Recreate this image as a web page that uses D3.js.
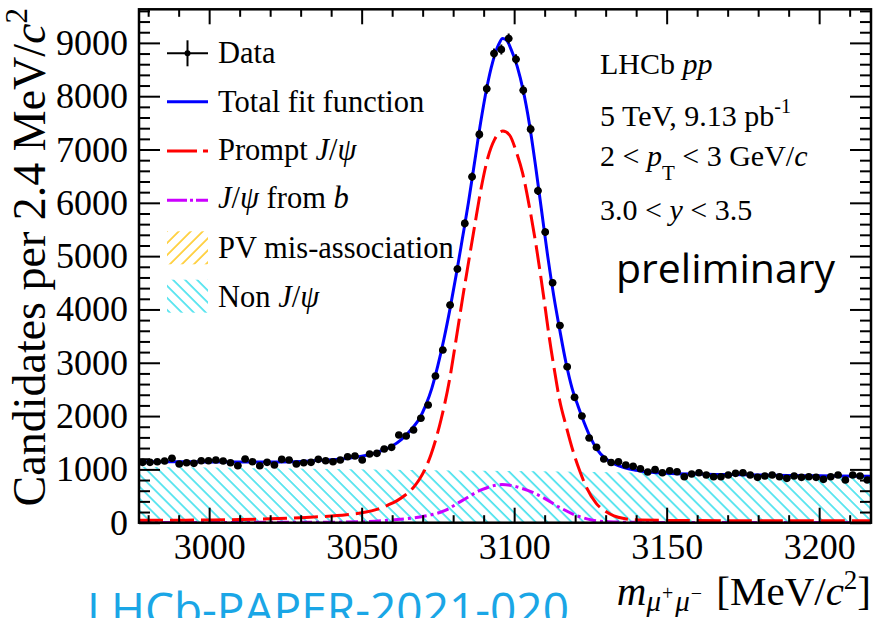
<!DOCTYPE html>
<html>
<head>
<meta charset="utf-8">
<script src="https://cdn.jsdelivr.net/npm/d3@7"></script>
<style>
  html, body { margin: 0; padding: 0; background: #fff; }
  svg { display: block; }
  text { font-family: "Liberation Serif", "Times New Roman", serif; fill: #000; }
</style>
</head>
<body>
<svg id="chart" width="876" height="618"></svg>
<script>
// Histogram: 100 bins of 2.4 MeV starting at 2977 MeV
const binLow = 2977;
const binWidth = 2.4;
const dataCounts = [
  1132, 1132, 1144, 1157, 1207, 1101, 1125, 1113, 1163, 1163,
  1176, 1157, 1125, 1069, 1194, 1144, 1069, 1132, 1082, 1188,
  1176, 1101, 1125, 1132, 1188, 1163, 1144, 1176, 1238, 1251,
  1176, 1288, 1301, 1382, 1413, 1644, 1626, 1738, 1958, 2207,
  2751, 3238, 4082, 4760, 5614, 6488, 7283, 8138, 8801, 8876,
  9083, 8694, 8113, 7382, 6225, 5451, 4501, 3700, 2925, 2351,
  2001, 1588, 1413, 1194, 1130, 1141, 1082, 1060, 1013, 951,
  995, 938, 975, 957, 863, 913, 938, 894, 863, 863,
  894, 926, 938, 894, 851, 876, 894, 863, 832, 876,
  851, 863, 851, 813, 863, 894, 801, 894, 876, 801
];

// Fit curves (mass in MeV, value in candidates)
const totalMass = [2977, 2990, 3000, 3010, 3020, 3030, 3035, 3040, 3045, 3050, 3054, 3057, 3060, 3063, 3065, 3067, 3069, 3071, 3073, 3075, 3077, 3079, 3081, 3083, 3085, 3087, 3089, 3091, 3093, 3095, 3096.2, 3097.5, 3099, 3101, 3103, 3105, 3107, 3109, 3111, 3113, 3115, 3117, 3119, 3121, 3123, 3125, 3127, 3130, 3133, 3136, 3140, 3145, 3150, 3160, 3170, 3180, 3190, 3200, 3217];
const totalFit  = [1145, 1142, 1140, 1138, 1140, 1150, 1165, 1180, 1205, 1245, 1300, 1360, 1440, 1560, 1670, 1800, 1960, 2200, 2520, 2950, 3450, 4020, 4650, 5320, 6000, 6750, 7500, 8150, 8650, 8980, 9082, 9050, 8880, 8560, 8100, 7480, 6700, 5850, 5000, 4250, 3600, 3000, 2520, 2180, 1870, 1600, 1390, 1200, 1100, 1035, 985, 945, 928, 912, 903, 895, 887, 880, 872];

const promptMass = [2977, 2997, 3010, 3020, 3030, 3037, 3045, 3051, 3055, 3058.6, 3061.5, 3064.1, 3067.4, 3069, 3070.6, 3072.8, 3074.5, 3076.1, 3078.8, 3081, 3083.2, 3084.8, 3087, 3089.2, 3091.4, 3093.6, 3096.3, 3098.5, 3100.7, 3102.8, 3105, 3107.2, 3108.9, 3110.3, 3111.5, 3113.2, 3114.9, 3117.1, 3119.2, 3121.4, 3123.6, 3126.9, 3130.2, 3135.6, 3141, 3160, 3217];
const promptFit  = [45, 50, 58, 72, 95, 115, 150, 195, 250, 330, 410, 510, 690, 820, 980, 1290, 1600, 1950, 2676, 3450, 4250, 4800, 5551, 6280, 6850, 7190, 7345, 7270, 6957, 6551, 5926, 5200, 4550, 3980, 3480, 2863, 2301, 1800, 1363, 988, 676, 363, 206, 82, 51, 40, 35];

const fromBMass = [2977, 3040, 3051, 3060, 3069.6, 3077.2, 3082.8, 3089.4, 3096, 3102.5, 3109, 3114.5, 3120, 3125.4, 3130.9, 3140, 3217];
const fromBFit  = [4, 10, 19, 51, 113, 225, 410, 620, 715, 645, 488, 300, 144, 51, 19, 6, 2];

const nonJpsiMass = [2977, 3000, 3040, 3080, 3120, 3160, 3217];
const nonJpsiFit  = [1050, 1035, 1005, 980, 955, 925, 885];

const xMajorTicks = [3000, 3050, 3100, 3150, 3200];
const yMajorTicks = [0, 1000, 2000, 3000, 4000, 5000, 6000, 7000, 8000, 9000];

const svg = d3.select("#chart");
const plotLeft = 139, plotRight = 871, plotTop = 9.3, plotBottom = 522.7;

const x = d3.scaleLinear().domain([2977, 3217]).range([plotLeft, plotRight]);
const y = d3.scaleLinear().domain([0, 9630]).range([plotBottom, plotTop]);

const xMinorTicks = d3.range(2980, 3217, 10).filter(v => v % 50 !== 0);
const yMinorTicks = d3.range(200, 9630, 200).filter(v => v % 1000 !== 0);

// hatch patterns
const defs = svg.append("defs");
function hatch(id, color, angle) {
  const p = defs.append("pattern")
    .attr("id", id)
    .attr("patternUnits", "userSpaceOnUse")
    .attr("width", 8.5).attr("height", 8.5)
    .attr("patternTransform", `rotate(${angle})`);
  p.append("line")
    .attr("x1", 1).attr("y1", 0).attr("x2", 1).attr("y2", 8.5)
    .attr("stroke", color).attr("stroke-width", 1.4);
}
hatch("hatchCyan", "#22dcea", -45);
hatch("hatchOrange", "#ffc000", 45);

defs.append("clipPath").attr("id", "plotClip")
  .append("rect")
  .attr("x", plotLeft).attr("y", plotTop)
  .attr("width", plotRight - plotLeft).attr("height", plotBottom - plotTop);

const plot = svg.append("g").attr("clip-path", "url(#plotClip)");

// Non J/psi background (hatched)
const bkgPoints = nonJpsiMass.map((m, i) => [m, nonJpsiFit[i]]);
plot.append("path")
  .datum(bkgPoints)
  .attr("fill", "url(#hatchCyan)")
  .attr("d", d3.area()
    .x(d => x(d[0]))
    .y0(y(0))
    .y1(d => y(d[1]))
    .curve(d3.curveMonotoneX));

function curvePath(mass, vals, color, dash, width) {
  plot.append("path")
    .datum(mass.map((m, i) => [m, vals[i]]))
    .attr("fill", "none")
    .attr("stroke", color)
    .attr("stroke-width", width)
    .attr("stroke-dasharray", dash)
    .attr("d", d3.line()
      .x(d => x(d[0]))
      .y(d => y(d[1]))
      .curve(d3.curveMonotoneX));
}
curvePath(fromBMass, fromBFit, "#cc00ff", "12,4,3,4", 3);
curvePath(promptMass, promptFit, "#ff0000", "24,7", 3);
curvePath(totalMass, totalFit, "#0000ff", null, 3);

// Data points with error bars
const points = dataCounts.map((n, i) => ({ m: binLow + binWidth * (i + 0.5), n: n }));
const pts = plot.append("g");
pts.selectAll("line.ex").data(points).enter().append("line")
  .attr("x1", d => x(d.m - binWidth / 2)).attr("x2", d => x(d.m + binWidth / 2))
  .attr("y1", d => y(d.n)).attr("y2", d => y(d.n))
  .attr("stroke", "#000").attr("stroke-width", 2);
pts.selectAll("line.ey").data(points).enter().append("line")
  .attr("x1", d => x(d.m)).attr("x2", d => x(d.m))
  .attr("y1", d => y(d.n - Math.sqrt(d.n))).attr("y2", d => y(d.n + Math.sqrt(d.n)))
  .attr("stroke", "#000").attr("stroke-width", 2);
pts.selectAll("circle").data(points).enter().append("circle")
  .attr("cx", d => x(d.m)).attr("cy", d => y(d.n)).attr("r", 3.8)
  .attr("fill", "#000");

// Axes with inward ticks (ROOT style)
function addAxis(axis, transform, labelSize) {
  const g = svg.append("g").attr("transform", transform).call(axis);
  g.select(".domain").remove();
  g.attr("font-family", null).attr("font-size", null);
  g.selectAll(".tick line").attr("stroke", "#000").attr("stroke-width", 2);
  g.selectAll(".tick text").style("font-size", labelSize + "px").attr("fill", "#000");
  return g;
}
addAxis(d3.axisLeft(y).tickValues(yMajorTicks).tickSize(-21).tickPadding(11).tickFormat(d3.format("d")), `translate(${plotLeft},0)`, 36);
addAxis(d3.axisLeft(y).tickValues(yMinorTicks).tickSize(-11).tickFormat(""), `translate(${plotLeft},0)`, 0);
addAxis(d3.axisRight(y).tickValues(yMajorTicks).tickSize(-21).tickFormat(""), `translate(${plotRight},0)`, 0);
addAxis(d3.axisRight(y).tickValues(yMinorTicks).tickSize(-11).tickFormat(""), `translate(${plotRight},0)`, 0);
addAxis(d3.axisBottom(x).tickValues(xMajorTicks).tickSize(-15).tickPadding(11).tickFormat(d3.format("d")), `translate(0,${plotBottom})`, 36);
addAxis(d3.axisBottom(x).tickValues(xMinorTicks).tickSize(-7.5).tickFormat(""), `translate(0,${plotBottom})`, 0);
addAxis(d3.axisTop(x).tickValues(xMajorTicks).tickSize(-15).tickFormat(""), `translate(0,${plotTop})`, 0);
addAxis(d3.axisTop(x).tickValues(xMinorTicks).tickSize(-7.5).tickFormat(""), `translate(0,${plotTop})`, 0);

svg.append("rect")
  .attr("x", plotLeft).attr("y", plotTop)
  .attr("width", plotRight - plotLeft).attr("height", plotBottom - plotTop)
  .attr("fill", "none").attr("stroke", "#000").attr("stroke-width", 2.5);

// rich text helper: parts = [{t, i (italic), dy, dx, s (size)}]
function richText(parent, px, py, size, parts, anchor) {
  const t = parent.append("text")
    .attr("x", px).attr("y", py)
    .style("font-size", size + "px")
    .attr("text-anchor", anchor || "start");
  parts.forEach(p => {
    const ts = t.append("tspan").text(p.t);
    if (p.i) ts.style("font-style", "italic");
    if (p.dy) ts.attr("dy", p.dy);
    if (p.dx) ts.attr("dx", p.dx);
    if (p.s) ts.style("font-size", p.s + "px");
  });
  return t;
}

// axis titles
richText(svg.append("g").attr("transform", "translate(45,8) rotate(-90)"), 0, 0, 46, [
  { t: "Candidates per 2.4 MeV/" }, { t: "c", i: true }, { t: "2", dy: -18, s: 31 }
], "end");

richText(svg, 871, 604.5, 41, [
  { t: "m", i: true },
  { t: "μ", i: true, dy: 6.5, s: 29 }, { t: "+", dy: -11, dx: 1, s: 20 },
  { t: "μ", i: true, dy: 11, dx: 2, s: 29 }, { t: "−", dy: -11, dx: 1, s: 20 },
  { t: " [MeV/", dy: 4.5, dx: 4 }, { t: "c", i: true }, { t: "2", dy: -16, s: 27 }, { t: "]", dy: 16 }
], "end");

// legend
const legendLabels = [
  [{ t: "Data" }],
  [{ t: "Total fit function" }],
  [{ t: "Prompt " }, { t: "J", i: true }, { t: "/" }, { t: "ψ", i: true }],
  [{ t: "J", i: true }, { t: "/" }, { t: "ψ", i: true }, { t: " from " }, { t: "b", i: true }],
  [{ t: "PV mis-association" }],
  [{ t: "Non " }, { t: "J", i: true }, { t: "/" }, { t: "ψ", i: true }]
];
const legendBase = [63.3, 111.7, 160, 208.3, 258.3, 306.7];
const legend = svg.append("g");
legendLabels.forEach((parts, i) => richText(legend, 218, legendBase[i], 30.5, parts));

const lx0 = 167, lx1 = 208;
legend.append("line").attr("x1", lx0).attr("x2", lx1).attr("y1", legendBase[0] - 10).attr("y2", legendBase[0] - 10)
  .attr("stroke", "#000").attr("stroke-width", 2);
legend.append("line").attr("x1", (lx0 + lx1) / 2).attr("x2", (lx0 + lx1) / 2).attr("y1", legendBase[0] - 23).attr("y2", legendBase[0] + 3)
  .attr("stroke", "#000").attr("stroke-width", 2);
legend.append("circle").attr("cx", (lx0 + lx1) / 2).attr("cy", legendBase[0] - 10).attr("r", 3).attr("fill", "#000");
legend.append("line").attr("x1", lx0).attr("x2", lx1).attr("y1", legendBase[1] - 10).attr("y2", legendBase[1] - 10)
  .attr("stroke", "#0000ff").attr("stroke-width", 3);
legend.append("line").attr("x1", lx0).attr("x2", lx1).attr("y1", legendBase[2] - 9).attr("y2", legendBase[2] - 9)
  .attr("stroke", "#ff0000").attr("stroke-width", 3).attr("stroke-dasharray", "30,6");
legend.append("line").attr("x1", lx0).attr("x2", lx1).attr("y1", legendBase[3] - 8).attr("y2", legendBase[3] - 8)
  .attr("stroke", "#cc00ff").attr("stroke-width", 3).attr("stroke-dasharray", "20,3,3,3");
legend.append("rect").attr("x", lx0).attr("y", legendBase[4] - 27).attr("width", lx1 - lx0).attr("height", 33)
  .attr("fill", "url(#hatchOrange)");
legend.append("rect").attr("x", lx0).attr("y", legendBase[5] - 27).attr("width", lx1 - lx0).attr("height", 33)
  .attr("fill", "url(#hatchCyan)");

// annotation block
richText(svg, 600, 74, 30, [{ t: "LHCb " }, { t: "pp", i: true }]);
richText(svg, 600, 126, 30, [{ t: "5 TeV, 9.13 pb" }, { t: "-1", dy: -13, s: 20 }]);
richText(svg, 600, 166, 30, [
  { t: "2 < " }, { t: "p", i: true }, { t: "T", dy: 14, s: 21 },
  { t: " < 3 GeV/", dy: -14 }, { t: "c", i: true }
]);
richText(svg, 600, 220, 30, [{ t: "3.0 < " }, { t: "y", i: true }, { t: " < 3.5" }]);

svg.append("text")
  .attr("x", 616).attr("y", 283)
  .style("font-family", "'Open Sans', 'Noto Sans', sans-serif")
  .style("font-size", "41px")
  .text("preliminary");

svg.append("text")
  .attr("x", 87).attr("y", 626)
  .style("font-family", "'Open Sans', 'Noto Sans', sans-serif")
  .style("font-size", "46px")
  .style("fill", "#1aa6e6")
  .text("LHCb-PAPER-2021-020");
</script>
</body>
</html>
